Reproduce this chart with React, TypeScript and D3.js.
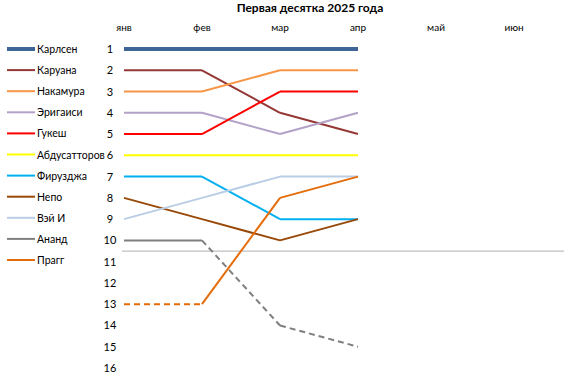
import React from "react";
import * as d3 from "d3";

const months = ["янв", "фев", "мар", "апр", "май", "июн"];
const ranks = d3.range(1, 17);
const players = ["Карлсен", "Каруана", "Накамура", "Эригаиси", "Гукеш", "Абдусатторов", "Фирузджа", "Непо", "Вэй И", "Ананд", "Прагг"];
const colors = ["#3F6596", "#953735", "#F79646", "#B3A2C7", "#FF0000", "#FFFF00", "#00B0F0", "#984807", "#B9CDE5", "#7F7F7F", "#E46C0A"];
const widths = [4, 2, 2, 2, 2, 2, 2, 2, 2, 2, 2];
const values: number[][] = [
  [1, 1, 1, 1],
  [2, 2, 4, 5],
  [3, 3, 2, 2],
  [4, 4, 5, 4],
  [5, 5, 3, 3],
  [6, 6, 6, 6],
  [7, 7, 9, 9],
  [8, 9, 10, 9],
  [9, 8, 7, 7],
  [10, 10, 14, 15],
  [13, 13, 8, 7],
];
// per-segment dashed flags (segment i is between month i and i+1)
const dashed: boolean[][] = [
  [false, false, false], [false, false, false], [false, false, false], [false, false, false],
  [false, false, false], [false, false, false], [false, false, false], [false, false, false],
  [false, false, false], [false, true, true], [true, false, false],
];
const cutoff = 10.5;

export default function App() {
  const W = 564, H = 382;
  const x = d3.scalePoint<string>().domain(months).range([124, 514]);
  const y = d3.scaleLinear().domain([1, 16]).range([49, 368]);
  const line = d3.line<[number, number]>().x(d => d[0]).y(d => d[1]);
  const font = "Lato, 'Open Sans', sans-serif";
  return (
    <svg width={W} height={H} style={{ position: "absolute", left: 0, top: 0, fontFamily: font }}>
      <rect width={W} height={H} fill="#fff" />
      <text x={310} y={12} textAnchor="middle" fontSize={12} fontWeight="bold" fill="#000">Первая десятка 2025 года</text>
      {months.map(m => (
        <text key={m} x={x(m)} y={31} textAnchor="middle" fontSize={10} fill="#000">{m}</text>
      ))}
      {ranks.map(r => (
        <text key={r} x={110} y={y(r) + 4} textAnchor="middle" fontSize={11} fill="#000">{r}</text>
      ))}
      <line x1={122} x2={564} y1={y(cutoff)} y2={y(cutoff)} stroke="#BFBFBF" strokeWidth={1.2} />
      {values.map((vals, i) => (
        <g key={players[i]}>
          {vals.slice(0, -1).map((v, j) => (
            <path key={j}
              d={line([[x(months[j])!, y(v)], [x(months[j + 1])!, y(vals[j + 1])]]) || ""}
              stroke={colors[i]} strokeWidth={widths[i]} fill="none"
              strokeDasharray={dashed[i][j] ? "6,4" : undefined} />
          ))}
        </g>
      ))}
      {players.map((p, i) => {
        const ly = 49 + i * 21.1;
        return (
          <g key={p}>
            <line x1={7} x2={35} y1={ly} y2={ly} stroke={colors[i]} strokeWidth={widths[i]} />
            <text x={37} y={ly + 4} fontSize={10.5} fill="#000">{p}</text>
          </g>
        );
      })}
    </svg>
  );
}
